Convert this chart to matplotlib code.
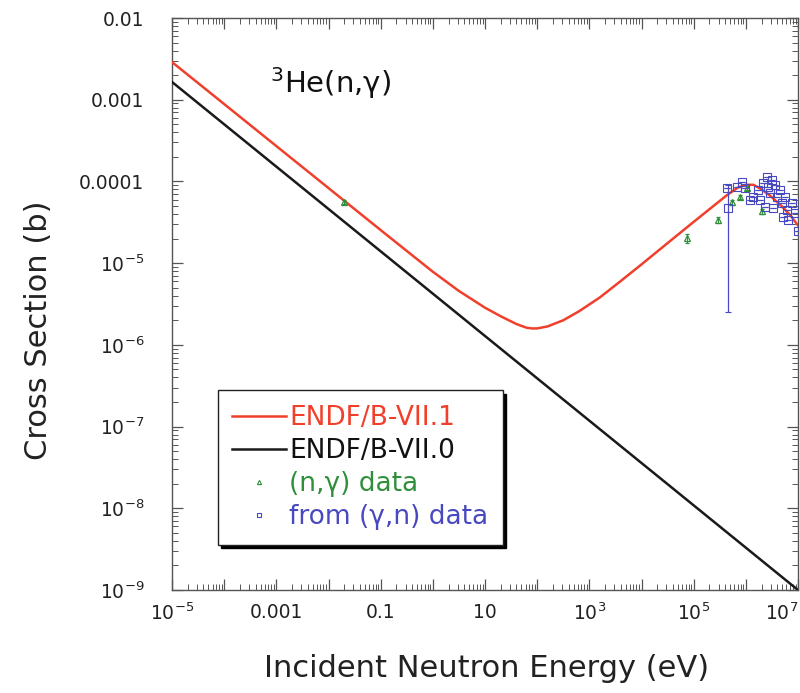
import matplotlib
matplotlib.use("Agg")
import matplotlib.pyplot as plt
from matplotlib.lines import Line2D
from matplotlib.ticker import FixedLocator, FixedFormatter, LogLocator, NullFormatter

plt.rcParams['font.family'] = ['DejaVu Sans']
plt.rcParams['mathtext.default'] = 'regular'

# ENDF/B-VII.1 evaluated curve
red_E = [1e-5, 1e-3, 0.1, 1, 3.16, 10, 20, 40, 63, 79, 100, 158, 316, 631, 1585,
         3981, 1e4, 3.16e4, 1e5, 4.35e5, 7e5, 1e6, 1.4e6, 2e6, 3e6, 5e6, 7e6, 1e7]
red_xs = [2.89e-3, 2.71e-4, 2.54e-5, 7.85e-6, 4.57e-6, 2.85e-6, 2.24e-6, 1.80e-6,
          1.62e-6, 1.59e-6, 1.59e-6, 1.68e-6, 2.0e-6, 2.57e-6, 3.8e-6, 6.03e-6,
          9.66e-6, 1.76e-5, 3.2e-5, 6.8e-5, 8.4e-5, 9.1e-5, 9.1e-5, 8.0e-5, 6.6e-5,
          4.9e-5, 3.9e-5, 2.9e-5]

# ENDF/B-VII.0 evaluated curve (pure 1/v)
black_E = [1e-5, 1e7]
black_xs = [1.65e-3, 1.0e-9]

# (n,gamma) data
ng_E = [0.02, 7.4e4, 2.9e5, 5.4e5, 7.7e5, 1.05e6, 2.0e6]
ng_xs = [5.6e-5, 2.03e-5, 3.37e-5, 5.6e-5, 6.5e-5, 8.3e-5, 4.3e-5]
ng_err = [0.3e-5, 0.27e-5, 0.3e-5, 0.4e-5, 0.4e-5, 0.5e-5, 0.3e-5]

# from (gamma,n) data
gn_E = [4.35e5, 4.54e5, 6.8e5, 8.4e5, 9.6e5, 1.2e6, 1.37e6, 1.71e6, 1.87e6,
        2.13e6, 2.33e6, 2.54e6, 2.65e6, 2.9e6, 3.17e6, 3.3e6, 3.6e6, 3.95e6,
        4.5e6, 4.9e6, 5.2e6, 5.6e6, 6.1e6, 6.4e6, 7.7e6, 8.7e6, 1.0e7]
gn_xs = [8.3e-5, 4.7e-5, 8.5e-5, 9.8e-5, 8.3e-5, 5.9e-5, 6.4e-5, 7.9e-5, 5.9e-5,
         9.5e-5, 4.9e-5, 1.13e-4, 8.5e-5, 7.2e-5, 1.04e-4, 4.7e-5, 9.0e-5, 6.4e-5,
         7.9e-5, 5.4e-5, 3.7e-5, 6.4e-5, 4.5e-5, 3.4e-5, 5.4e-5, 4.1e-5, 2.5e-5]
gn_err = [0, 4.45e-5, 0, 0, 0, 0, 0, 0, 0, 0, 0, 0, 0, 0, 0, 0, 0, 0, 0, 0, 0,
          0, 0, 0, 0, 0, 0]

x_ticks = [1e-5, 1e-4, 1e-3, 1e-2, 1e-1, 1, 10, 1e2, 1e3, 1e4, 1e5, 1e6, 1e7]
x_ticklabels = ['$10^{-5}$', '', '0.001', '', '0.1', '', '10', '', '$10^{3}$', '',
                '$10^{5}$', '', '$10^{7}$']
y_ticks = [1e-9, 1e-8, 1e-7, 1e-6, 1e-5, 1e-4, 1e-3, 1e-2]
y_ticklabels = ['$10^{-9}$', '$10^{-8}$', '$10^{-7}$', '$10^{-6}$', '$10^{-5}$',
                '0.0001', '0.001', '0.01']

RED = '#f0402c'
GREEN = '#2f8f3a'
BLUE = '#4848c0'

fig = plt.figure(figsize=(8.0, 6.93), dpi=100)
ax = fig.add_axes([0.215, 0.1486, 0.7825, 0.8254])

ax.plot(red_E, red_xs, color=RED, lw=1.8, zorder=3)
ax.plot(black_E, black_xs, color='#1a1a1a', lw=1.8, zorder=3)
ax.errorbar(ng_E, ng_xs, yerr=ng_err, fmt='^', ms=4, mfc='none', mec=GREEN,
            ecolor=GREEN, elinewidth=0.8, capsize=1.5, mew=0.9, zorder=4)
ax.errorbar(gn_E, gn_xs, yerr=gn_err, fmt='s', ms=5.5, mfc='none', mec=BLUE,
            ecolor=BLUE, elinewidth=0.9, capsize=2, mew=0.8, zorder=5)

ax.set_xscale('log')
ax.set_yscale('log')
ax.set_xlim(1e-5, 1e7)
ax.set_ylim(1e-9, 1e-2)

ax.xaxis.set_major_locator(FixedLocator(x_ticks))
ax.xaxis.set_major_formatter(FixedFormatter(x_ticklabels))
ax.yaxis.set_major_locator(FixedLocator(y_ticks))
ax.yaxis.set_major_formatter(FixedFormatter(y_ticklabels))
for a in (ax.xaxis, ax.yaxis):
    a.set_minor_locator(LogLocator(base=10, subs=range(2, 10), numticks=100))
    a.set_minor_formatter(NullFormatter())

ax.tick_params(which='both', direction='in', top=True, right=True,
               colors='#555555', labelcolor='#222222', labelsize=13.5)
ax.tick_params(which='major', length=8, width=0.9)
ax.tick_params(which='minor', length=4, width=0.7)
ax.tick_params(axis='x', pad=9)
ax.tick_params(axis='y', pad=20)
for s in ax.spines.values():
    s.set_color('#555555')
    s.set_linewidth(1.0)
ax.xaxis.get_major_ticks()[-1].label1.set_horizontalalignment('right')

ax.set_xlabel('Incident Neutron Energy (eV)', fontsize=22, color='#222222')
ax.set_ylabel('Cross Section (b)', fontsize=22, color='#222222')
ax.xaxis.set_label_coords(0.503, -0.112)
ax.yaxis.set_label_coords(-0.19, 0.455)

ax.text(0.157, 0.869, '$^{3}$He(n,γ)', transform=ax.transAxes, fontsize=21,
        color='#111111', ha='left', va='baseline')

handles = [
    Line2D([], [], color=RED, lw=1.8),
    Line2D([], [], color='#1a1a1a', lw=1.8),
    Line2D([], [], ls='none', marker='^', ms=3, mfc='none', mec=GREEN, mew=0.8),
    Line2D([], [], ls='none', marker='s', ms=3, mfc='none', mec=BLUE, mew=0.8),
]
labels = ['ENDF/B-VII.1', 'ENDF/B-VII.0', '(n,γ) data', 'from (γ,n) data']
leg = ax.legend(handles, labels, loc='lower left', bbox_to_anchor=(0.073, 0.079),
                borderaxespad=0, fontsize=19, frameon=True, fancybox=False,
                shadow={'color': 'black', 'alpha': 1, 'ox': 2.5, 'oy': -2.5},
                handlelength=2.05, handletextpad=0.1, labelspacing=0.27,
                borderpad=0.55, numpoints=1)
leg.get_frame().set_edgecolor('#222222')
leg.get_frame().set_linewidth(1.0)
for t, c in zip(leg.get_texts(), [RED, '#111111', GREEN, BLUE]):
    t.set_color(c)

fig.savefig('out.png', dpi=100)
